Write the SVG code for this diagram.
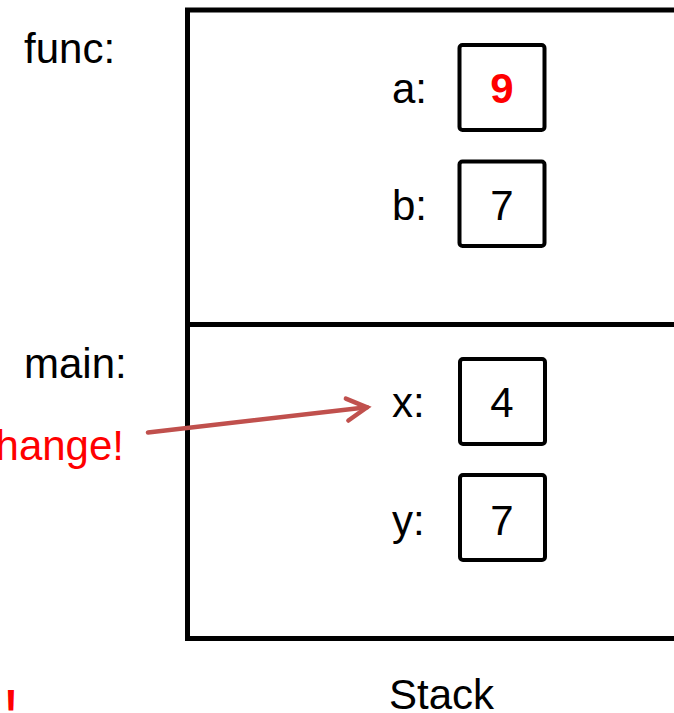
<svg xmlns="http://www.w3.org/2000/svg" width="674" height="713" viewBox="0 0 674 713">
  <style>
    .t { font-family: "Liberation Sans", Arial, sans-serif; font-size: 42px; fill: #000; }
    .red { fill: #FF0000; }
    .val { text-anchor: middle; }
    .frame { fill: none; stroke: #000; stroke-width: 5; }
    .cell { fill: #fff; stroke: #000; stroke-width: 4; }
    .conn { fill: none; stroke: #C0504D; stroke-width: 4.5; stroke-linecap: round; }
  </style>
  <defs>
    <marker id="openArrow" markerUnits="userSpaceOnUse" viewBox="-26 -16 32 32" refX="0" refY="0" markerWidth="32" markerHeight="32" orient="auto" overflow="visible">
      <path d="M-20,-11 L0,0 L-20,11" fill="none" stroke="#C0504D" stroke-width="4.5" stroke-linecap="round" stroke-linejoin="miter"/>
    </marker>
  </defs>
  <rect width="674" height="713" fill="#fff"/>

  <g id="stack">
    <rect class="frame" x="187.5" y="10" width="520" height="628.5"/>
    <text class="t val" x="441.5" y="709">Stack</text>
  </g>

  <g id="frame-func">
    <text class="t" x="24" y="63">func:</text>
  </g>

  <g id="frame-main">
    <line class="frame" x1="187.5" y1="324.5" x2="700" y2="324.5"/>
    <text class="t" x="24" y="378">main:</text>
  </g>

  <g id="var-a">
    <text class="t" x="392" y="102.5">a:</text>
    <rect class="cell" x="459.5" y="45" width="85" height="85" rx="3"/>
    <text class="t val red" x="502" y="102.5" font-weight="bold">9</text>
  </g>

  <g id="var-b">
    <text class="t" x="392" y="220">b:</text>
    <rect class="cell" x="459.5" y="161.5" width="85" height="84.5" rx="3"/>
    <text class="t val" x="502" y="220">7</text>
  </g>

  <g id="var-x">
    <text class="t" x="392" y="417">x:</text>
    <rect class="cell" x="460" y="359" width="85" height="85" rx="3"/>
    <text class="t val" x="502" y="417">4</text>
  </g>

  <g id="var-y">
    <text class="t" x="392" y="535">y:</text>
    <rect class="cell" x="460" y="475" width="85" height="85" rx="3"/>
    <text class="t val" x="502" y="535">7</text>
  </g>

  <g id="note-change">
    <text class="t red" x="124" y="460" text-anchor="end">hange!</text>
  </g>

  <g id="note-bang">
    <text class="t red" x="11" y="719" text-anchor="middle" font-weight="bold">!</text>
  </g>

  <g id="connectors">
    <line class="conn" x1="148" y1="432.5" x2="367" y2="407.3" marker-end="url(#openArrow)"/>
  </g>
</svg>
